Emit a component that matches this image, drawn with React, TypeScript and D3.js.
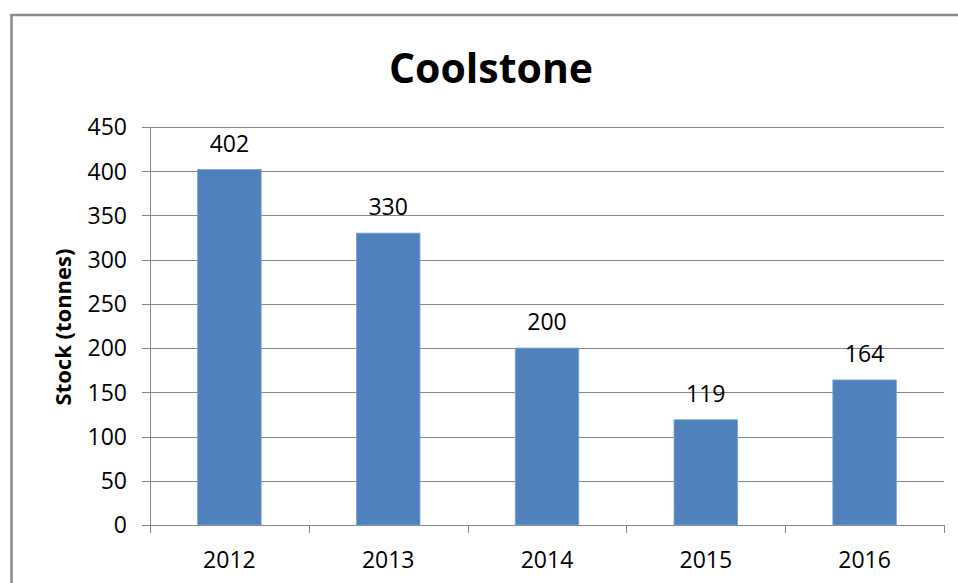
import React from "react";
import * as d3 from "d3";

const categories = ["2012", "2013", "2014", "2015", "2016"];
const values = [402, 330, 200, 119, 164];
const yTicks = [0, 50, 100, 150, 200, 250, 300, 350, 400, 450];
const title = "Coolstone";
const yTitle = "Stock (tonnes)";

const W = 958;
const H = 583;
const FONT = "'Open Sans', 'Liberation Sans', sans-serif";

export default function App() {
  const left = 150;
  const right = 944;
  const top = 127;
  const bottom = 525;
  const x = d3.scaleBand<string>().domain(categories).range([left, right]).paddingInner(0.6).paddingOuter(0.3);
  const xb = d3.scaleBand<string>().domain(categories).range([left, right]);
  const y = d3.scaleLinear().domain([0, 450]).range([bottom, top]);
  const grid = "#868686";
  return (
    <svg width={W} height={H} style={{ position: "absolute", left: 0, top: 0, background: "#fff" }} fontFamily={FONT}>
      <rect x={11.5} y={15} width={W + 20} height={H + 20} fill="#fff" stroke="#8a8a8a" strokeWidth={2.5} />
      <text x={491} y={83} textAnchor="middle" fontSize={41} fontWeight="bold" fill="#000">{title}</text>
      {yTicks.map((t) => (
        <g key={t}>
          <line x1={left - 8} x2={right} y1={Math.round(y(t)) + 0.5} y2={Math.round(y(t)) + 0.5} stroke={grid} strokeWidth={1} />
          <text x={127} y={y(t)} dy="0.36em" textAnchor="end" fontSize={23} fill="#000">{t}</text>
        </g>
      ))}
      <line x1={left + 0.5} x2={left + 0.5} y1={top} y2={bottom + 8} stroke={grid} strokeWidth={1} />
      {categories.map((c, i) => (
        <line key={"t" + i} x1={Math.round((xb(c) as number) + xb.bandwidth()) + 0.5} x2={Math.round((xb(c) as number) + xb.bandwidth()) + 0.5} y1={bottom} y2={bottom + 8} stroke={grid} strokeWidth={1} />
      ))}
      {categories.map((c, i) => (
        <g key={c}>
          <rect x={x(c)} y={y(values[i])} width={x.bandwidth()} height={bottom - y(values[i])} fill="#4F81BD" stroke="#7EA3D1" strokeWidth={0.8} />
          <text x={(x(c) as number) + x.bandwidth() / 2} y={y(values[i]) - 26} dy="0.36em" textAnchor="middle" fontSize={23} fill="#000">{values[i]}</text>
          <text x={(xb(c) as number) + xb.bandwidth() / 2} y={560} dy="0.36em" textAnchor="middle" fontSize={23} fill="#000">{c}</text>
        </g>
      ))}
      <text transform={`translate(63, 327) rotate(-90)`} dy="0.36em" textAnchor="middle" fontSize={22} fontWeight="bold" fill="#000">{yTitle}</text>
    </svg>
  );
}
